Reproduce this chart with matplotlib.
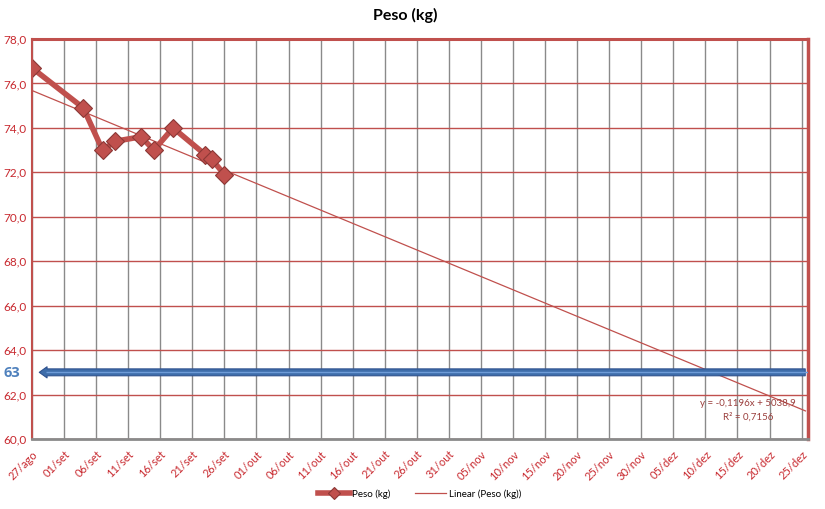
import datetime as dt
import numpy as np
import matplotlib
matplotlib.use("Agg")
import matplotlib.pyplot as plt
import matplotlib.dates as mdates
from matplotlib.patches import FancyArrowPatch

plt.rcParams['font.family'] = ['Lato', 'DejaVu Sans']

# ---- data ----
dates = ["2013-08-27", "2013-09-04", "2013-09-07", "2013-09-09", "2013-09-13",
         "2013-09-15", "2013-09-18", "2013-09-23", "2013-09-24", "2013-09-26"]
peso = [76.7, 74.9, 73.0, 73.4, 73.6, 73.0, 74.0, 72.8, 72.6, 71.9]
tick_labels = ["27/ago", "01/set", "06/set", "11/set", "16/set", "21/set", "26/set",
               "01/out", "06/out", "11/out", "16/out", "21/out", "26/out", "31/out",
               "05/nov", "10/nov", "15/nov", "20/nov", "25/nov", "30/nov",
               "05/dez", "10/dez", "15/dez", "20/dez", "25/dez"]
y_ticks = [60, 62, 64, 66, 68, 70, 72, 74, 76, 78]
meta = 63
eq_text = "y = -0,1196x + 5038,9"
r2_text = "R² = 0,7156"

RED = '#C0504D'
TXT_RED = '#C8282E'
GRAY = '#8A8A8A'

d = [dt.datetime.strptime(s, "%Y-%m-%d") for s in dates]
x = mdates.date2num(d)
x0 = x[0]
tick_pos = x0 + 5 * np.arange(len(tick_labels))
xmax = tick_pos[-1] + 1

fig = plt.figure(figsize=(8.25, 5.09), dpi=100)
ax = fig.add_axes([32/825, 1-439/509, (808-32)/825, (439-39)/509])

ax.set_xlim(x0, xmax)
ax.set_ylim(60, 78)
ax.set_xticks(tick_pos)
ax.set_xticklabels(tick_labels, rotation=45, ha='right', rotation_mode='anchor',
                   color=TXT_RED, fontsize=8)
ax.set_yticks(y_ticks)
ax.set_yticklabels([f"{v:.1f}".replace('.', ',') for v in y_ticks],
                   color=TXT_RED, fontsize=8.5)
ax.tick_params(axis='both', length=0, pad=4)
ax.tick_params(axis='x', pad=7)

for v in tick_pos:
    ax.axvline(v, color=GRAY, lw=1.0, zorder=1)
for v in y_ticks:
    ax.axhline(v, color=RED, lw=1.0, zorder=1)

for s, w, c in [('left', 1.5, RED), ('top', 2.2, RED), ('right', 2.5, RED), ('bottom', 2.0, GRAY)]:
    ax.spines[s].set_color(c)
    ax.spines[s].set_linewidth(w)
    ax.spines[s].set_zorder(5)

# trend line
coef = np.polyfit(x - x0, peso, 1)
xt = np.array([x0, xmax - 0.4])
ax.plot(xt, np.polyval(coef, xt - x0), color=RED, lw=0.9, zorder=3,
        label="Linear (Peso (kg))")

# series
ax.plot(x, peso, color=RED, lw=4.0, marker='D', markersize=9,
        markerfacecolor=RED, markeredgecolor='#8C3836', markeredgewidth=0.8,
        zorder=4, label="Peso (kg)", solid_joinstyle='round')

# goal arrow
arr = FancyArrowPatch((xmax, meta), (x0 + 0.7, meta),
                      arrowstyle='simple,head_length=0.7,head_width=1.0,tail_width=0.62',
                      mutation_scale=8, facecolor='#3E6DAA', edgecolor='#2F528F',
                      lw=0.8, zorder=6, clip_on=False)
ax.add_patch(arr)
ax.plot([x0 + 2.2, xmax], [meta, meta], color='#6E9CD8', lw=1.0, zorder=7,
        solid_capstyle='butt')
fig.text(4/825, 1-373/509, str(meta), color='#4F81BD', fontsize=10.5,
         fontweight='bold', family=['Open Sans', 'DejaVu Sans'],
         ha='left', va='center')

# equation
fig.text(748/825, 1-403/509, eq_text, fontsize=7, color='#9B3F3D',
         ha='center', va='center')
fig.text(748/825, 1-417/509, r2_text, fontsize=7, color='#9B3F3D',
         ha='center', va='center')

fig.text(405/825, 1-15/509, "Peso (kg)", fontsize=11.5, fontweight='bold',
         ha='center', va='center')

h, l = ax.get_legend_handles_labels()
fig.legend(h[::-1], l[::-1], loc='center', bbox_to_anchor=(420/825, 1-494/509),
           ncol=2, frameon=False, fontsize=7, handlelength=3.2, columnspacing=2.5,
           handletextpad=0.3, markerscale=0.65)

fig.savefig("out.png", dpi=100)
